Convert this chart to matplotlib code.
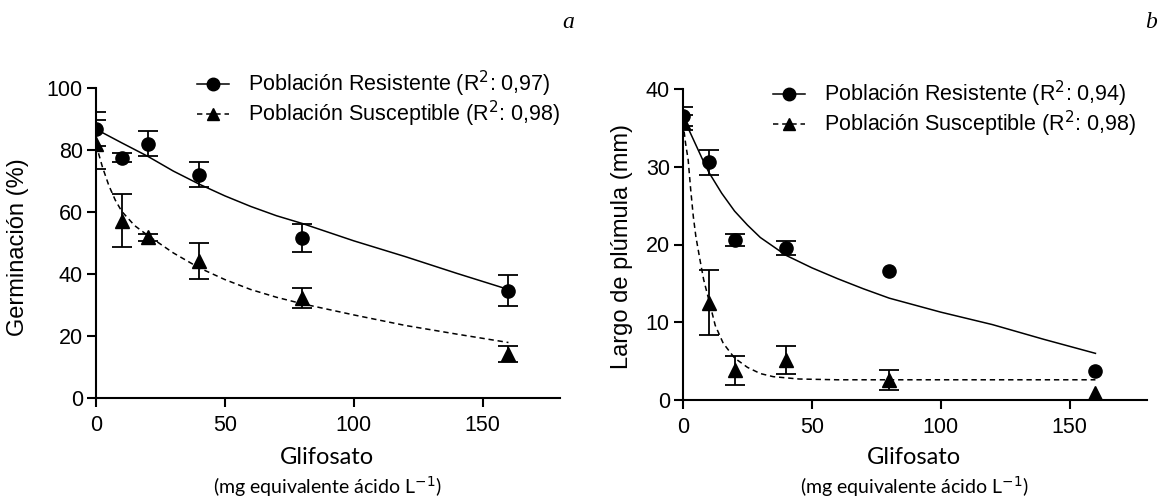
import matplotlib
matplotlib.use('Agg')
import matplotlib.pyplot as plt
from matplotlib.lines import Line2D

plt.rcParams['font.family'] = ['Liberation Sans', 'DejaVu Sans']
soft = ['Lato', 'Open Sans', 'DejaVu Sans']

# ---- data ----
dosis = [0, 10, 20, 40, 80, 160]

# panel a: germinacion (%)
germ_res = [86.7, 77.5, 82.0, 72.0, 51.5, 34.6]
germ_res_err = [5.5, 1.5, 4.0, 4.0, 4.5, 5.0]
germ_sus = [81.8, 57.2, 51.8, 44.2, 32.2, 14.2]
germ_sus_err = [8.0, 8.5, 1.0, 5.8, 3.2, 2.5]

# fitted curves, points
fit_a_res_x = [0, 10, 20, 30, 40, 50, 60, 70, 80, 100, 120, 140, 160]
fit_a_res_y = [86.7, 82.3, 78.0, 73.2, 69.0, 65.2, 61.8, 58.8, 56.3, 50.7, 45.6, 40.2, 35.0]
fit_a_sus_x = [0, 2.5, 5, 7.5, 10, 15, 20, 30, 40, 50, 60, 70, 80, 100, 120, 140, 160]
fit_a_sus_y = [81.8, 74.5, 68.5, 63.8, 60.2, 55.6, 52.5, 46.8, 42.0, 38.2, 35.0, 32.5, 30.4, 26.8, 23.4, 20.6, 17.9]

# panel b: largo de plumula (mm)
plum_res = [36.5, 30.6, 20.6, 19.5, 16.6, 3.7]
plum_res_err = [1.2, 1.6, 0.8, 0.9, 0.0, 0.0]
plum_sus = [35.7, 12.5, 3.8, 5.1, 2.6, 0.9]
plum_sus_err = [1.0, 4.2, 1.9, 1.8, 1.3, 0.0]

fit_b_res_x = [0, 2.5, 5, 7.5, 10, 15, 20, 25, 30, 40, 50, 60, 70, 80, 100, 120, 140, 160]
fit_b_res_y = [36.5, 34.6, 32.8, 31.0, 29.3, 26.6, 24.3, 22.5, 20.9, 18.6, 17.0, 15.6, 14.3, 13.1, 11.3, 9.7, 7.8, 6.0]
fit_b_sus_x = [0, 1, 2, 3, 4, 5, 6.6, 8, 10, 12.5, 15.6, 20, 25, 30, 35, 45, 60, 80, 120, 160]
fit_b_sus_y = [35.7, 33.0, 30.9, 27.0, 23.6, 21.0, 18.0, 15.5, 12.9, 9.6, 7.3, 5.4, 4.2, 3.4, 3.0, 2.7, 2.6, 2.6, 2.6, 2.6]

leg_a = ['Población Resistente (R$^2$: 0,97)', 'Población Susceptible (R$^2$: 0,98)']
leg_b = ['Población Resistente (R$^2$: 0,94)', 'Población Susceptible (R$^2$: 0,98)']

W, H = 1169, 503
fig = plt.figure(figsize=(W / 100, H / 100), dpi=100)

def px(x0, y0, x1, y1):
    return [x0 / W, 1 - y1 / H, (x1 - x0) / W, (y1 - y0) / H]

ax1 = fig.add_axes(px(96, 88, 560, 398))
ax2 = fig.add_axes(px(683, 89, 1147, 400))

dash = (0, (3.5, 2.5))

def bars(ax, y, err):
    # only the points that have a visible error bar
    keep = [i for i, e in enumerate(err) if e > 0]
    ax.errorbar([dosis[i] for i in keep], [y[i] for i in keep], yerr=[err[i] for i in keep],
                fmt='none', ecolor='black', capsize=7.5, elinewidth=1.3, capthick=1.3, zorder=3)

def panel(ax, res, res_err, sus, sus_err, frx, fry, fsx, fsy, ymax, ystep, ylabel, labels, legpos, ylx):
    ax.plot(frx, fry, color='black', lw=1.1)
    ax.plot(fsx, fsy, color='black', lw=1.1, ls=dash)
    bars(ax, res, res_err)
    bars(ax, sus, sus_err)
    ax.plot(dosis, res, 'o', color='black', ms=9.5, zorder=5)
    ax.plot(dosis, sus, '^', color='black', ms=9.5, zorder=5)
    ax.set_xlim(0, 180)
    ax.set_ylim(0, ymax)
    ax.set_xticks([0, 50, 100, 150])
    ax.set_yticks(range(0, ymax + 1, ystep))
    for s in ['top', 'right']:
        ax.spines[s].set_visible(False)
    for s in ['left', 'bottom']:
        ax.spines[s].set_linewidth(1.5)
        ax.spines[s].set_zorder(6)
    ax.tick_params(axis='both', direction='out', length=6.5, width=1.5, colors='black',
                   labelsize=15.5)
    ax.tick_params(axis='y', pad=3)
    ax.tick_params(axis='x', pad=6)
    fig.text(ylx / W, 1 - 247 / H, ylabel, rotation=90, ha='center', va='center', fontsize=17)
    handles = [Line2D([], [], color='black', lw=1.1, marker='o', ms=9),
               Line2D([], [], color='black', lw=1.1, ls=dash, marker='^', ms=9)]
    ax.legend(handles, labels, loc='upper left', bbox_to_anchor=legpos,
              bbox_transform=fig.transFigure, frameon=False, fontsize=15.5,
              handlelength=1.5, handletextpad=0.85, labelspacing=0.0,
              borderpad=0, borderaxespad=0)

panel(ax1, germ_res, germ_res_err, germ_sus, germ_sus_err,
      fit_a_res_x, fit_a_res_y, fit_a_sus_x, fit_a_sus_y,
      100, 20, 'Germinación (%)', leg_a, (197 / W, 1 - 69 / H), 18)
panel(ax2, plum_res, plum_res_err, plum_sus, plum_sus_err,
      fit_b_res_x, fit_b_res_y, fit_b_sus_x, fit_b_sus_y,
      40, 10, 'Largo de plúmula (mm)', leg_b, (773 / W, 1 - 79 / H), 622)

for xc in [327, 914]:
    fig.text(xc / W, 1 - 458 / H, 'Glifosato', ha='center', va='center', fontsize=17, family=soft)
    fig.text(xc / W, 1 - 487 / H, '(mg equivalente ácido L$^{-1}$)', ha='center', va='center',
             fontsize=14, family=soft)

fig.text(568 / W, 1 - 22 / H, 'a', ha='center', va='center', fontsize=17, style='italic',
         family=['Liberation Serif', 'DejaVu Serif'])
fig.text(1151 / W, 1 - 22 / H, 'b', ha='center', va='center', fontsize=17, style='italic',
         family=['Liberation Serif', 'DejaVu Serif'])

fig.savefig('out.png', dpi=100)
print('out.png saved')
